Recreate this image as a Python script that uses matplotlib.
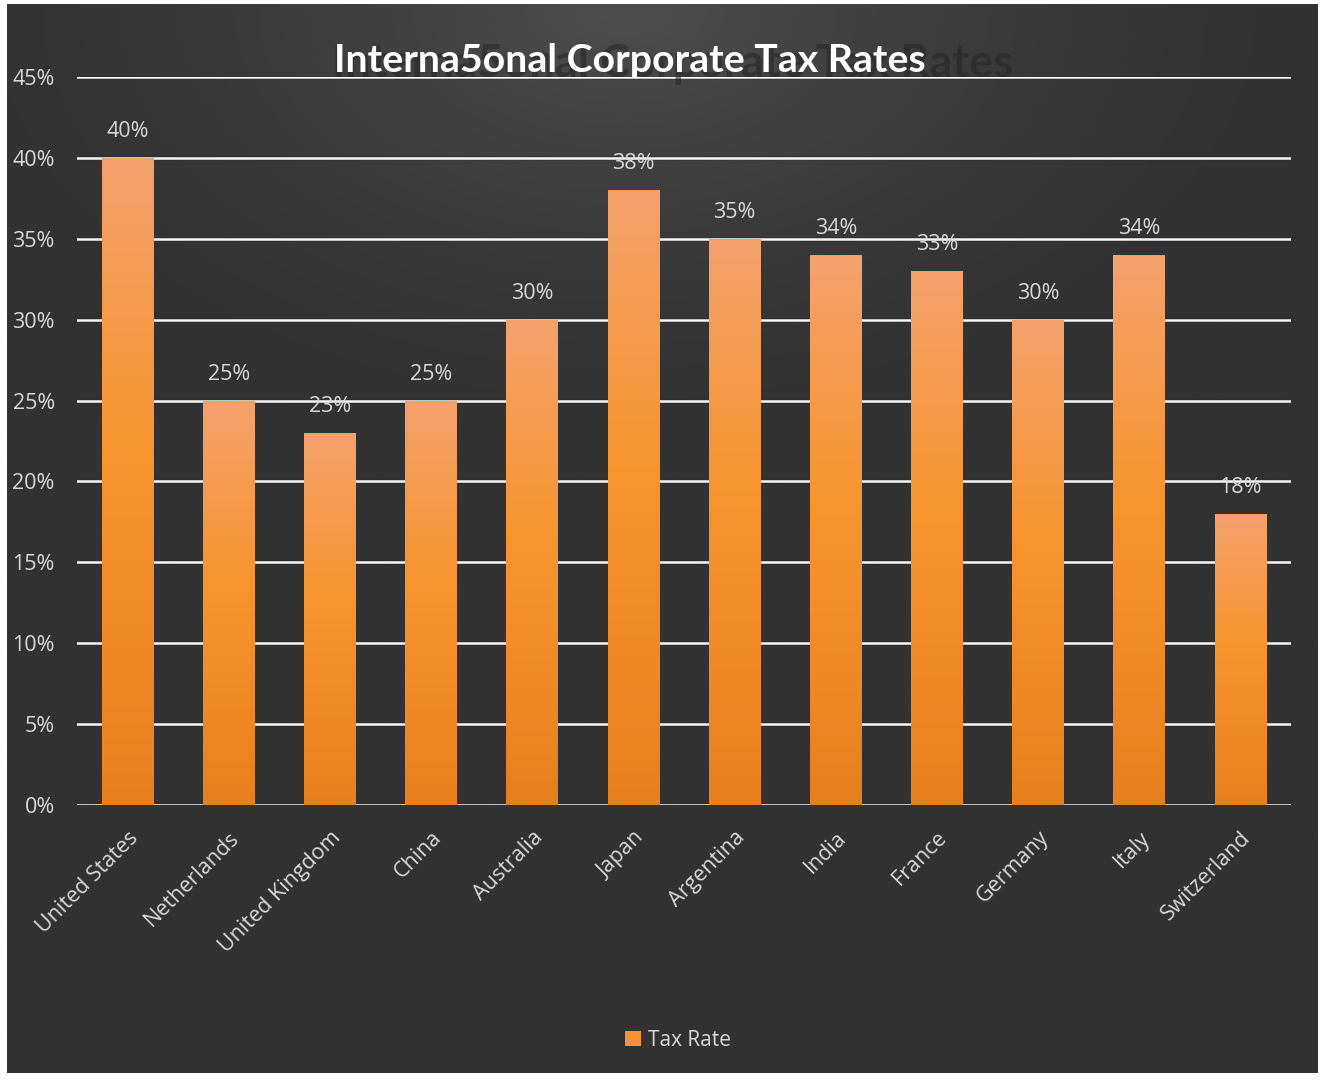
import numpy as np
import matplotlib
matplotlib.use("Agg")
import matplotlib.pyplot as plt
from matplotlib.patches import Patch
from matplotlib.colors import LinearSegmentedColormap
import matplotlib.patheffects as pe

countries = ["United States", "Netherlands", "United Kingdom", "China", "Australia",
             "Japan", "Argentina", "India", "France", "Germany", "Italy", "Switzerland"]
tax_rates = [40, 25, 23, 25, 30, 38, 35, 34, 33, 30, 34, 18]
y_ticks = [0, 5, 10, 15, 20, 25, 30, 35, 40, 45]
y_tick_labels = [f"{v}%" for v in y_ticks]

W, H = 1320, 1080
fig = plt.figure(figsize=(W / 100, H / 100), dpi=100, facecolor="white")

# dark panel with a soft light spot near the top centre
bg_ax = fig.add_axes([7 / W, 7 / H, (1318 - 7) / W, (1076 - 7) / H])
bg_ax.set_axis_off()
ny, nx = 400, 480
yy, xx = np.mgrid[0:ny, 0:nx]
cx, cy = 0.47 * nx, 0.0
d = np.sqrt(((xx - cx) / (0.55 * nx)) ** 2 + ((yy - cy) / (0.42 * ny)) ** 2)
w = np.clip(1 - d, 0, 1) ** 1.6
base = np.array([0x32, 0x32, 0x32]) / 255
light = np.array([0x4e, 0x4e, 0x4e]) / 255
img = base[None, None, :] * (1 - w[..., None]) + light[None, None, :] * w[..., None]
bg_ax.imshow(img, aspect="auto", extent=[0, 1, 0, 1], origin="upper")
bg_ax.set_xlim(0, 1)
bg_ax.set_ylim(0, 1)

ax = fig.add_axes([77 / W, 1 - 805 / H, (1291 - 77) / W, (805 - 77) / H])
ax.patch.set_alpha(0)
for s in ax.spines.values():
    s.set_visible(False)

x = np.arange(len(countries))

# horizontal gridlines with a faint dark edge
for v in y_ticks:
    ax.axhline(v, color="#f7f7f7", lw=1.8, zorder=1,
               path_effects=[pe.withStroke(linewidth=3.4, foreground="#2a2a2a", alpha=0.35)])

bars = ax.bar(x, tax_rates, width=0.51, color="#f7932f", zorder=3,
              path_effects=[pe.SimplePatchShadow(offset=(0, -1.5), shadow_rgbFace="black", alpha=0.35),
                            pe.Normal()])

grad_cmap = LinearSegmentedColormap.from_list(
    "bar", [(0.0, "#e87f1e"), (0.55, "#f8952f"), (1.0, "#f4a16d")])
grad = np.linspace(0, 1, 256).reshape(-1, 1)
for b in bars:
    x0, y0, bw, bh = b.get_x(), b.get_y(), b.get_width(), b.get_height()
    im = ax.imshow(grad, cmap=grad_cmap, origin="lower", aspect="auto",
                   extent=[x0, x0 + bw, y0, y0 + bh], zorder=4)
    im.set_clip_path(b)

ax.set_xlim(-0.5, len(countries) - 0.5)
ax.set_ylim(0, 45)

label_color = "#d9d9d9"
for xi, v in zip(x, tax_rates):
    ax.annotate(f"{v}%", (xi, v), xytext=(0, 19), textcoords="offset points",
                ha="center", va="center", fontsize=15.5, color=label_color,
                family="Open Sans", zorder=6)

ax.set_yticks(y_ticks)
ax.set_yticklabels(y_tick_labels, fontsize=15.5, color=label_color, family="Open Sans")
ax.tick_params(axis="y", length=0, pad=16)
ax.set_xticks(x)
ax.set_xticklabels(countries, rotation=45, ha="right", va="top", rotation_mode="anchor",
                   fontsize=15.5, color=label_color, family="Open Sans")
ax.tick_params(axis="x", length=0, pad=16)

# title with a faint enlarged echo behind it
title = "Interna5onal Corporate Tax Rates"
fig.text(332 / W, 1 - 64 / H, title, ha="left", va="center", fontsize=32.5,
         fontweight="bold", family="Lato", color="#262626", alpha=0.55, zorder=1)
fig.text(630 / W, 1 - 60 / H, title, ha="center", va="center", fontsize=28.3,
         fontweight="bold", family="Lato", color="white", zorder=10)

fig.legend(handles=[Patch(facecolor="#f7932f", edgecolor="none")], labels=["Tax Rate"],
           loc="center", bbox_to_anchor=(678 / W, 1 - 1040 / H), frameon=False,
           handlelength=0.75, handleheight=0.75, handletextpad=0.35,
           prop={"family": "Open Sans", "size": 15}, labelcolor=label_color)

fig.savefig("out.png", dpi=100, facecolor="white")
